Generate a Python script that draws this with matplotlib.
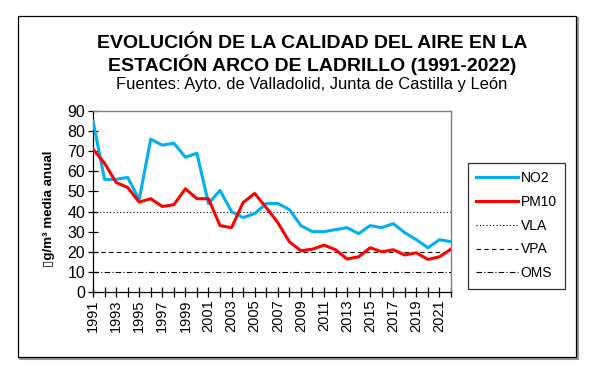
import matplotlib
matplotlib.use("Agg")
import matplotlib.pyplot as plt
from matplotlib.patches import Rectangle

plt.rcParams["font.family"] = ["Liberation Sans", "DejaVu Sans"]

# Data (annual means, ug/m3)
years = list(range(1991, 2023))
no2 = [85, 56, 56, 57, 46, 76, 73, 74, 67, 69, 44, 50.5, 40, 37, 39,
       44, 44, 41, 33, 30, 30, 31, 32, 29, 33, 32, 34, 29.5, 26, 22, 26, 25]
pm10 = [71, 64, 54.5, 52, 44.7, 46.4, 42.5, 43.4, 51.3, 46.4, 46.4, 33, 32, 44.5, 49,
        42, 34.5, 25, 20.5, 21.3, 23.3, 21, 16.4, 17.5, 22, 20, 21, 18.4, 19.5, 16.2, 17.5, 21.3]
vla = 40
vpa = 20
oms = 10
tick_years = list(range(1991, 2022, 2))
y_ticks = list(range(0, 91, 10))

W, H = 600, 379
fig = plt.figure(figsize=(W / 100, H / 100), dpi=100)

# outer chart frame with a light shadow
fig.patches.append(Rectangle((20 / W, 1 - 359 / H), 558 / W, 341 / H,
                             transform=fig.transFigure, facecolor="none",
                             edgecolor="#9a9a9a", linewidth=1.5, zorder=-2))
fig.patches.append(Rectangle((18 / W, 1 - 357 / H), 558 / W, 341 / H,
                             transform=fig.transFigure, facecolor="white",
                             edgecolor="black", linewidth=0.9, zorder=-1))

ax = fig.add_axes([93 / W, 1 - 292 / H, 358 / W, 181 / H])
ax.set_zorder(2)
ax.patch.set_alpha(0)

ax.plot(years, no2, color="#00B0F0", linewidth=2.2, label="NO2", zorder=4)
ax.plot(years, pm10, color="#FF0000", linewidth=2.2, label="PM10", zorder=5)
ax.axhline(vla, color="black", linestyle=(0, (1, 2)), linewidth=0.8, label="VLA")
ax.axhline(vpa, color="black", linestyle=(0, (4, 3)), linewidth=0.8, label="VPA")
ax.axhline(oms, color="black", linestyle=(0, (5, 2, 1, 2)), linewidth=0.8, label="OMS")

ax.set_xlim(1991, 2022)
ax.set_ylim(0, 90)
ax.set_yticks(y_ticks)
ax.set_xticks(years, minor=True)
ax.set_xticks(tick_years)
ax.set_xticklabels([str(y) for y in tick_years], rotation=90, fontsize=10.5)
ax.tick_params(axis="y", labelsize=11.5, direction="inout", length=7, width=0.9, pad=2)
ax.tick_params(axis="x", which="both", direction="inout", length=7, width=0.9, pad=2)

for side in ("top", "right"):
    ax.spines[side].set_color("#808080")
    ax.spines[side].set_linewidth(1.0)
for side in ("left", "bottom"):
    ax.spines[side].set_color("black")
    ax.spines[side].set_linewidth(0.9)

ax.set_ylabel("\u25afg/m\u00b3 media anual", fontsize=9.6, fontweight="bold")
ax.yaxis.set_label_coords(-0.106, 0.46)

leg = fig.legend(loc="upper left", bbox_to_anchor=(468 / W, 1 - 163 / H),
                 fontsize=10, frameon=True, fancybox=False, edgecolor="black",
                 handlelength=3.0, handletextpad=0.2, labelspacing=0.7,
                 borderpad=0.6, borderaxespad=0)
leg.get_frame().set_linewidth(0.9)
leg.set_zorder(3)

# Titles
fig.text(312 / W, 1 - 44 / H, "EVOLUCIÓN DE LA CALIDAD DEL AIRE EN LA",
         ha="center", va="center", fontsize=14, fontweight="bold")
fig.text(312 / W, 1 - 65 / H, "ESTACIÓN ARCO DE LADRILLO (1991-2022)",
         ha="center", va="center", fontsize=14, fontweight="bold")
fig.text(312 / W, 1 - 85 / H, "Fuentes: Ayto. de Valladolid, Junta de Castilla y León",
         ha="center", va="center", fontsize=11.9)

fig.savefig("out.png", dpi=100)
